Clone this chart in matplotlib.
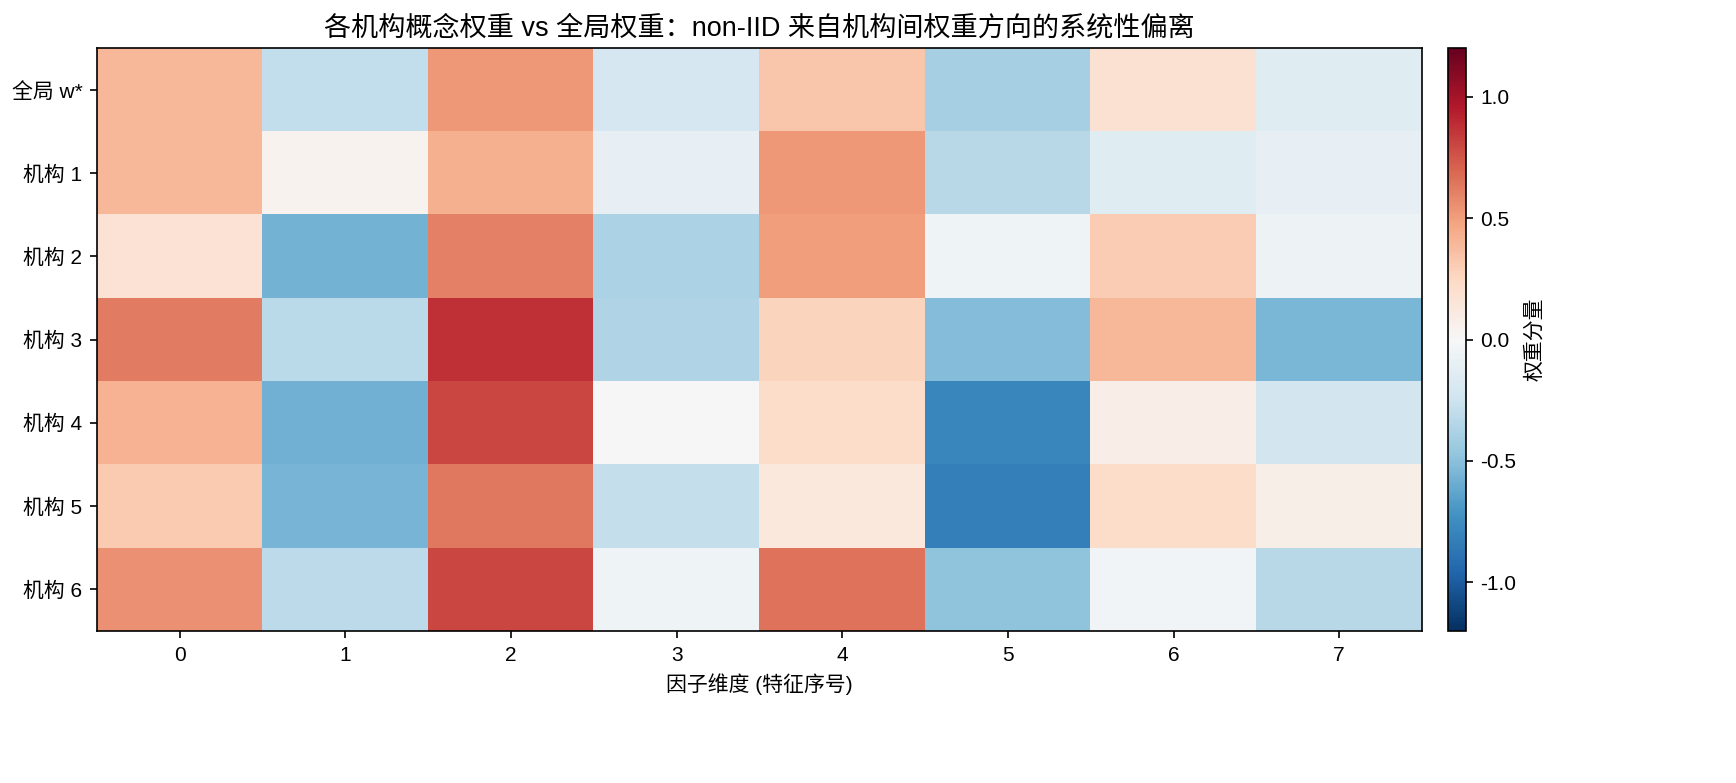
import matplotlib
matplotlib.use("Agg")
import matplotlib.pyplot as plt
import numpy as np

plt.rcParams['font.family'] = ['Liberation Sans', 'Noto Sans CJK SC', 'DejaVu Sans']
plt.rcParams['axes.unicode_minus'] = False

row_labels = ["全局 w*", "机构 1", "机构 2", "机构 3", "机构 4", "机构 5", "机构 6"]
col_labels = [0, 1, 2, 3, 4, 5, 6, 7]
w_global = [0.40, -0.30, 0.52, -0.20, 0.33, -0.40, 0.18, -0.15]
w_inst1 = [0.40, 0.04, 0.43, -0.10, 0.52, -0.33, -0.15, -0.10]
w_inst2 = [0.17, -0.57, 0.60, -0.38, 0.50, -0.05, 0.30, -0.06]
w_inst3 = [0.62, -0.32, 0.88, -0.36, 0.27, -0.52, 0.40, -0.55]
w_inst4 = [0.42, -0.58, 0.80, 0.00, 0.22, -0.78, 0.08, -0.22]
w_inst5 = [0.31, -0.56, 0.63, -0.29, 0.13, -0.82, 0.22, 0.07]
w_inst6 = [0.55, -0.31, 0.80, -0.05, 0.65, -0.48, -0.03, -0.33]

data = np.array([w_global, w_inst1, w_inst2, w_inst3, w_inst4, w_inst5, w_inst6])

fig = plt.figure(figsize=(1736/150, 783/150), dpi=150)
ax = fig.add_axes([97/1736, 1-631/783, (1422-97)/1736, (631-48)/783])
cax = fig.add_axes([1448/1736, 1-631/783, 18/1736, (631-48)/783])
im = ax.imshow(data, cmap='RdBu_r', vmin=-1.2, vmax=1.2, aspect='auto')
ax.set_xticks(range(len(col_labels)))
ax.set_xticklabels([str(c) for c in col_labels])
ax.set_yticks(range(len(row_labels)))
ax.set_yticklabels(row_labels)
ax.set_xlabel("因子维度 (特征序号)")
ax.set_title("各机构概念权重 vs 全局权重：non-IID 来自机构间权重方向的系统性偏离", fontsize=13)
cb = fig.colorbar(im, cax=cax)
cb.set_label("权重分量")
cb.set_ticks([-1.0, -0.5, 0.0, 0.5, 1.0])
fig.savefig("out.png", dpi=150)
